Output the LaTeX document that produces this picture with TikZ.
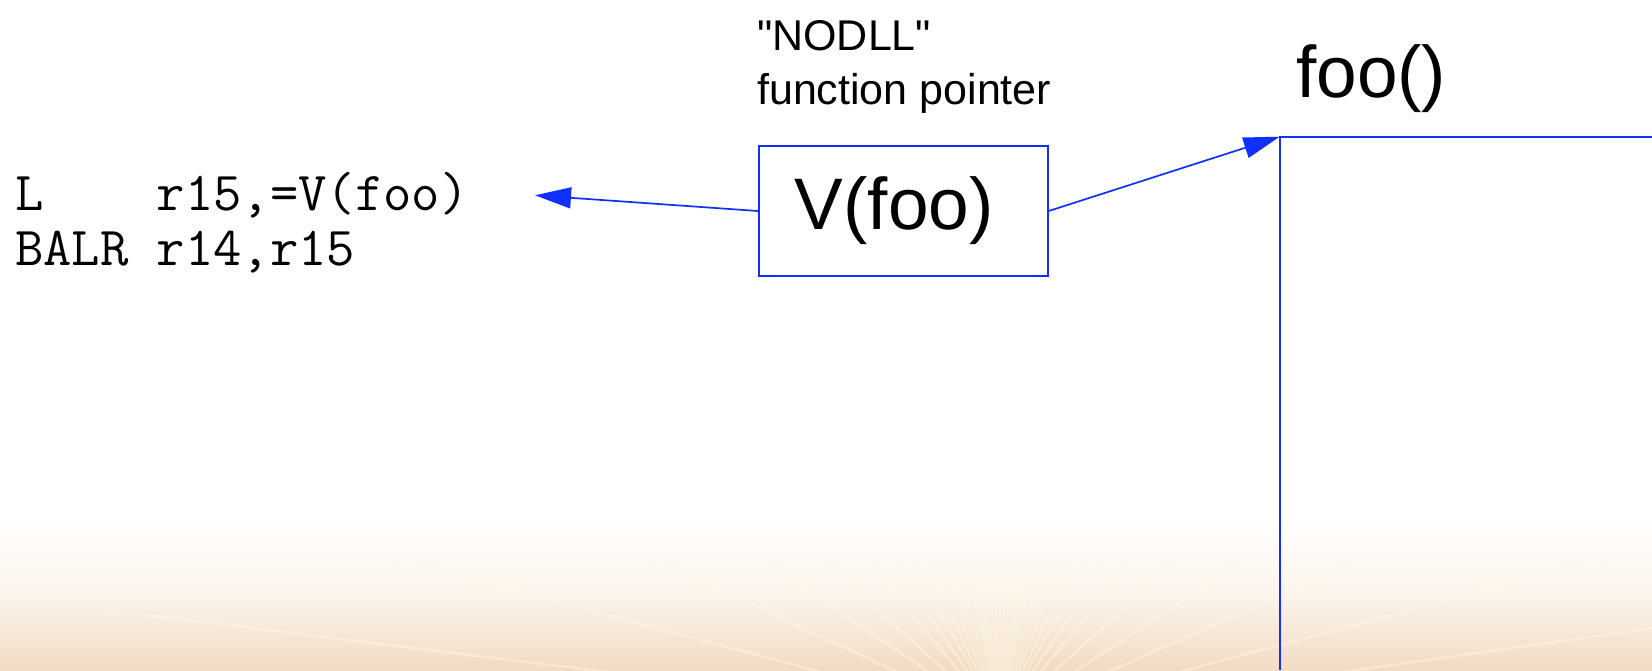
\documentclass[tikz,border=0pt]{standalone}
\usepackage{fontspec}
\newfontfamily\sansfont{Liberation Sans}
\usetikzlibrary{arrows.meta}
\definecolor{linkblue}{RGB}{16,48,255}
\definecolor{peach}{RGB}{242,219,195}
\definecolor{cream}{RGB}{251,244,235}
\definecolor{rayglow}{RGB}{255,250,232}

\begin{document}
\begin{tikzpicture}[x=1pt,y=-1pt,
  conn/.style={draw=linkblue, line width=1.7pt, -{Triangle[length=36pt,width=21pt]}},
  boxline/.style={draw=linkblue, line width=1.8pt},
  codetext/.style={font=\ttfamily\fontsize{55}{55}\selectfont, align=left, inner sep=0pt},
  labeltext/.style={font=\sansfont\fontsize{43}{54}\selectfont, align=left, inner sep=0pt},
  bigtext/.style={font=\sansfont\fontsize{73}{80}\selectfont, inner sep=0pt}]

  \useasboundingbox (0,0) rectangle (1652,670);

  % background: white page fading into a warm peach band with faint rays
  \fill[white] (0,0) rectangle (1652,670);
  \shade[top color=white, bottom color=cream] (0,515) rectangle (1652,595);
  \shade[top color=cream, bottom color=peach] (0,595) rectangle (1652,670);
  \begin{scope}
    \clip (0,560) rectangle (1652,670);
    \foreach \a in {8,15,24,33,42,50,56,61,65,69,72,75,78,80,82,84,86,88,90,92,94,96,98,100,102,105,108,111,115,119,124,130,138,146,155,165,173}
      \draw[rayglow, opacity=0.4, line width=2.5pt] (1000,720) -- ++(-\a:900);
  \end{scope}

  % call sequence (anchored on the baseline of its last line)
  \node[codetext, anchor=base west] (code) at (15,265)
    {L\ \ \ \ r15,=V(foo)\\BALR r14,r15};
  \coordinate (codeTip) at (535,195.3);

  % function pointer constant
  \node[labeltext, anchor=base west] (ptrlabel) at (757,104)
    {"NODLL"\\function pointer};
  \node[boxline, bigtext, minimum width=289pt, minimum height=130pt] (vbox)
    at (903.3,211) {V(foo)\hspace*{18pt}};

  % target routine
  \node[bigtext, anchor=base west] (fooname) at (1296,97) {foo()};
  \coordinate (fooEntry) at (1279.6,136.7);
  \draw[boxline] (1652,136.7) -- (fooEntry) -- (1279.6,670);

  % connectors
  \draw[conn] (vbox.west) -- (codeTip);
  \draw[conn] (vbox.east) -- (fooEntry);
\end{tikzpicture}
\end{document}
